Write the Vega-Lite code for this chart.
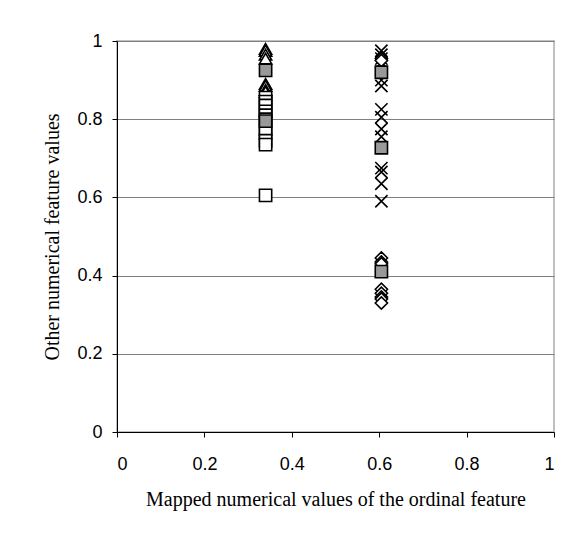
{
  "$schema": "https://vega.github.io/schema/vega-lite/v6.json",
  "autosize": "none",
  "padding": {"left": 117, "top": 41, "right": 32, "bottom": 101},
  "width": 437,
  "height": 391,
  "background": "white",
  "config": {
    "view": {"stroke": "#c0c0c0", "strokeWidth": 2},
    "axis": {
      "labelFont": "Liberation Sans",
      "labelFontSize": 18,
      "labelColor": "black",
      "titleFont": "Liberation Serif",
      "titleFontSize": 20,
      "titleFontWeight": "normal",
      "titleColor": "black",
      "domainColor": "black",
      "domainWidth": 1,
      "tickColor": "black",
      "tickSize": 5,
      "gridColor": "#808080",
      "gridWidth": 1,
      "gridOpacity": 1
    }
  },
  "data": {
    "values": [
      {"x": 0.34, "y": 0.98, "series": "tri"},
      {"x": 0.34, "y": 0.975, "series": "tri"},
      {"x": 0.34, "y": 0.965, "series": "tri"},
      {"x": 0.34, "y": 0.955, "series": "tri"},
      {"x": 0.34, "y": 0.89, "series": "tri"},
      {"x": 0.34, "y": 0.885, "series": "tri"},
      {"x": 0.34, "y": 0.875, "series": "tri"},
      {"x": 0.34, "y": 0.87, "series": "tri"},
      {"x": 0.34, "y": 0.855, "series": "sq"},
      {"x": 0.34, "y": 0.845, "series": "sq"},
      {"x": 0.34, "y": 0.835, "series": "sq"},
      {"x": 0.34, "y": 0.82, "series": "sq"},
      {"x": 0.34, "y": 0.81, "series": "sq"},
      {"x": 0.34, "y": 0.8, "series": "sq"},
      {"x": 0.34, "y": 0.775, "series": "sq"},
      {"x": 0.34, "y": 0.765, "series": "sq"},
      {"x": 0.34, "y": 0.745, "series": "sq"},
      {"x": 0.34, "y": 0.735, "series": "sq"},
      {"x": 0.34, "y": 0.605, "series": "sq"},
      {"x": 0.605, "y": 0.975, "series": "x"},
      {"x": 0.605, "y": 0.965, "series": "x"},
      {"x": 0.605, "y": 0.955, "series": "x"},
      {"x": 0.605, "y": 0.945, "series": "x"},
      {"x": 0.605, "y": 0.9, "series": "x"},
      {"x": 0.605, "y": 0.885, "series": "x"},
      {"x": 0.605, "y": 0.825, "series": "x"},
      {"x": 0.605, "y": 0.805, "series": "x"},
      {"x": 0.605, "y": 0.775, "series": "x"},
      {"x": 0.605, "y": 0.755, "series": "x"},
      {"x": 0.605, "y": 0.675, "series": "x"},
      {"x": 0.605, "y": 0.665, "series": "x"},
      {"x": 0.605, "y": 0.635, "series": "x"},
      {"x": 0.605, "y": 0.59, "series": "x"},
      {"x": 0.605, "y": 0.955, "series": "dia"},
      {"x": 0.605, "y": 0.95, "series": "dia"},
      {"x": 0.605, "y": 0.445, "series": "dia"},
      {"x": 0.605, "y": 0.435, "series": "dia"},
      {"x": 0.605, "y": 0.43, "series": "dia"},
      {"x": 0.605, "y": 0.365, "series": "dia"},
      {"x": 0.605, "y": 0.355, "series": "dia"},
      {"x": 0.605, "y": 0.345, "series": "dia"},
      {"x": 0.605, "y": 0.34, "series": "dia"},
      {"x": 0.605, "y": 0.33, "series": "dia"},
      {"x": 0.34, "y": 0.925, "series": "mean"},
      {"x": 0.34, "y": 0.795, "series": "mean"},
      {"x": 0.605, "y": 0.92, "series": "mean"},
      {"x": 0.605, "y": 0.727, "series": "mean"},
      {"x": 0.605, "y": 0.41, "series": "mean"}
    ]
  },
  "mark": {"type": "point", "filled": true, "stroke": "black", "strokeWidth": 1.6, "opacity": 1},
  "encoding": {
    "x": {
      "field": "x", "type": "quantitative",
      "scale": {"domain": [0, 1], "nice": false},
      "axis": {
        "values": [0, 0.2, 0.4, 0.6, 0.8, 1],
        "format": "~g",
        "grid": false,
        "labelPadding": 18,
        "titlePadding": 16,
        "title": "Mapped numerical values of the ordinal feature"
      }
    },
    "y": {
      "field": "y", "type": "quantitative",
      "scale": {"domain": [0, 1], "nice": false},
      "axis": {
        "values": [0, 0.2, 0.4, 0.6, 0.8, 1],
        "format": "~g",
        "grid": true,
        "labelPadding": 10,
        "titlePadding": 14,
        "title": "Other numerical feature values"
      }
    },
    "shape": {
      "field": "series", "type": "nominal",
      "scale": {
        "domain": ["tri", "sq", "x", "dia", "mean"],
        "range": ["triangle-up", "square", "M-1,-1L1,1M-1,1L1,-1", "diamond", "square"]
      },
      "legend": null
    },
    "fill": {
      "field": "series", "type": "nominal",
      "scale": {
        "domain": ["tri", "sq", "x", "dia", "mean"],
        "range": ["white", "white", "none", "white", "#999999"]
      },
      "legend": null
    },
    "size": {
      "field": "series", "type": "nominal",
      "scale": {
        "domain": ["tri", "sq", "x", "dia", "mean"],
        "range": [150, 150, 150, 170, 160]
      },
      "legend": null
    }
  }
}
